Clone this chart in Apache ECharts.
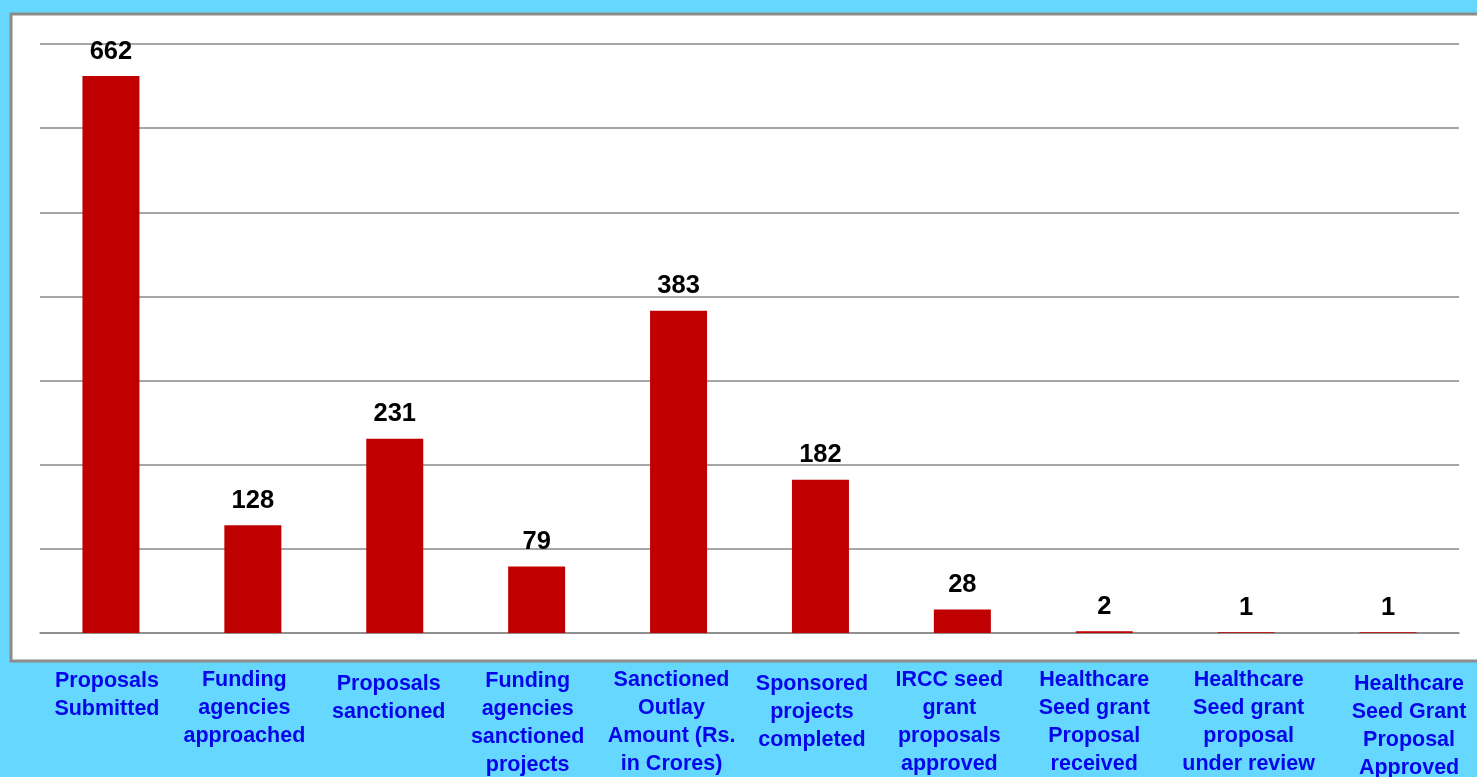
<!DOCTYPE html>
<html>
<head>
<meta charset="utf-8">
<script src="https://cdn.jsdelivr.net/npm/echarts@6/dist/echarts.min.js"></script>
<style>
html,body{margin:0;padding:0;background:#66D8FF;}
#chart{width:1477px;height:777px;}
</style>
</head>
<body>
<div id="chart"></div>
<script>
const categories = [
  "Proposals\nSubmitted",
  "Funding\nagencies\napproached",
  "Proposals\nsanctioned",
  "Funding\nagencies\nsanctioned\nprojects",
  "Sanctioned\nOutlay\nAmount (Rs.\nin Crores)",
  "Sponsored\nprojects\ncompleted",
  "IRCC seed\ngrant\nproposals\napproved",
  "Healthcare\nSeed grant\nProposal\nreceived",
  "Healthcare\nSeed grant\nproposal\nunder review",
  "Healthcare\nSeed Grant\nProposal\nApproved"
];
const values = [662, 128, 231, 79, 383, 182, 28, 2, 1, 1];
// small per-label nudges seen in the original layout
const labelDown = [1, 0, 4, 1, 0, 4, 0, 0, 0, 4];
const labelShift = [-4, -8.5, -6, -9, -7, -8.5, -13, -10, 2.5, 21];

const chart = echarts.init(document.getElementById('chart'), null, {renderer: 'canvas'});
chart.setOption({
  backgroundColor: '#66D8FF',
  animation: false,
  graphic: [{
    type: 'rect',
    z: -10,
    shape: {x: 11, y: 14, width: 1480, height: 647},
    style: {fill: '#FFFFFF', stroke: '#8C8C8C', lineWidth: 3}
  }],
  grid: {left: 40, right: 18, top: 44, bottom: 144, outerBoundsMode: 'none', containLabel: false},
  xAxis: {
    type: 'category',
    data: categories.map((c, i) => ({
      value: c,
      textStyle: {
        padding: [labelDown[i], labelShift[i] < 0 ? -2 * labelShift[i] : 0, 0, labelShift[i] > 0 ? 2 * labelShift[i] : 0]
      }
    })),
    axisTick: {show: false},
    axisLine: {show: true, lineStyle: {color: '#888888', width: 1.5}},
    axisLabel: {
      interval: 0,
      margin: 33,
      color: '#0505EB',
      fontFamily: 'Liberation Sans, Arial, sans-serif',
      fontWeight: 'bold',
      fontSize: 21.5,
      lineHeight: 28,
      align: 'center'
    }
  },
  yAxis: {
    type: 'value',
    min: 0, max: 700, interval: 100,
    axisLabel: {show: false},
    axisLine: {show: false},
    axisTick: {show: false},
    splitLine: {lineStyle: {color: '#888888', width: 1.5}}
  },
  series: [{
    type: 'bar',
    data: values,
    barWidth: 57,
    itemStyle: {color: '#C00000'},
    label: {
      show: true,
      position: 'top',
      distance: 11.5,
      color: '#000000',
      fontFamily: 'Liberation Sans, Arial, sans-serif',
      fontWeight: 'bold',
      fontSize: 25.5
    }
  }]
});
</script>
</body>
</html>
